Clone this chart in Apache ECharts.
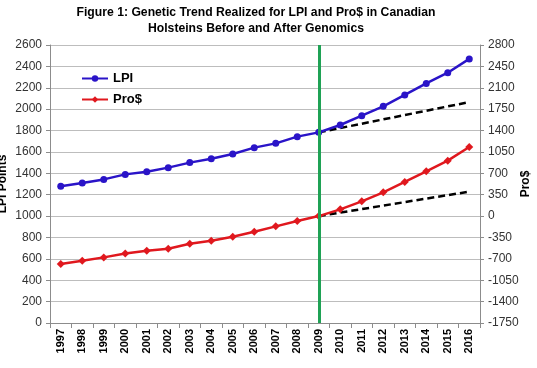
<!DOCTYPE html>
<html><head><meta charset="utf-8">
<script src="https://cdn.jsdelivr.net/npm/echarts@6/dist/echarts.min.js"></script>
<style>html,body{margin:0;padding:0;background:#fff}#c{width:537px;height:368px}</style>
</head><body><div id="c"></div>
<script>
const years = ['1997','1998','1999','2000','2001','2002','2003','2004','2005','2006','2007','2008','2009','2010','2011','2012','2013','2014','2015','2016'];
const lpi = [1278,1310,1343,1390,1415,1453,1500,1537,1581,1640,1680,1743,1783,1852,1939,2026,2133,2241,2341,2470];
const pro = [-784,-730,-676,-611,-567,-534,-452,-403,-338,-256,-168,-80,0,110,241,389,558,732,907,1130];
const lpiTrendNoGenomics = [null,null,null,null,null,null,null,null,null,null,null,null,1783,null,null,null,null,null,null,2066];
const proTrendNoGenomics = [null,null,null,null,null,null,null,null,null,null,null,null,0,null,null,null,null,null,null,400];
const leftTicks = {min:0,max:2600,interval:200};
const rightTicks = {min:-1750,max:2800,interval:350};

const chart = echarts.init(document.getElementById('c'));
const font = 'Arial, "Liberation Sans", sans-serif';
const plain = v => String(v);
chart.setOption({
  animation:false,
  title:{text:'Figure 1: Genetic Trend Realized for LPI and Pro$ in Canadian\nHolsteins Before and After Genomics',left:251,textAlign:'center',top:0,
    textStyle:{fontFamily:font,fontSize:12.2,fontWeight:'bold',color:'#000',lineHeight:16}},
  legend:{data:['LPI','Pro$'],orient:'vertical',left:76,top:67,itemGap:8,itemWidth:26,itemHeight:8,
    textStyle:{fontFamily:font,fontSize:13,fontWeight:'bold',color:'#000'}},
  grid:{left:50,right:57,top:45,bottom:45,containLabel:false,outerBoundsMode:'none'},
  xAxis:{type:'category',data:years,boundaryGap:true,
    axisLine:{lineStyle:{color:'#8c8c8c'}},
    axisTick:{show:true,alignWithLabel:false,length:5,lineStyle:{color:'#8c8c8c'}},
    axisLabel:{rotate:90,interval:0,fontFamily:font,fontSize:11,fontWeight:'bold',color:'#000',margin:6}},
  yAxis:[
    {type:'value',min:leftTicks.min,max:leftTicks.max,interval:leftTicks.interval,name:'LPI Points',nameLocation:'middle',nameGap:41,nameRotate:90,nameMoveOverlap:false,
     nameTextStyle:{fontFamily:font,fontSize:12,fontWeight:'bold',color:'#000'},
     axisLine:{show:true,lineStyle:{color:'#8c8c8c'}},axisTick:{show:true,length:4,lineStyle:{color:'#8c8c8c'}},
     axisLabel:{fontFamily:font,fontSize:12,color:'#333',margin:8,formatter:plain},
     splitLine:{lineStyle:{color:'#bdbdbd',width:1}}},
    {type:'value',min:rightTicks.min,max:rightTicks.max,interval:rightTicks.interval,name:'Pro$',nameLocation:'middle',nameGap:40,nameRotate:90,nameMoveOverlap:false,
     nameTextStyle:{fontFamily:font,fontSize:12,fontWeight:'bold',color:'#000'},
     axisLine:{show:true,lineStyle:{color:'#8c8c8c'}},axisTick:{show:true,length:4,lineStyle:{color:'#8c8c8c'}},
     axisLabel:{fontFamily:font,fontSize:12,color:'#333',margin:8,formatter:plain},
     splitLine:{show:false}}
  ],
  series:[
    {name:'LPI trend without genomics',type:'line',yAxisIndex:0,data:lpiTrendNoGenomics,connectNulls:true,symbol:'none',
     lineStyle:{color:'#000',width:2.5,type:[7,4]},z:3},
    {name:'Pro$ trend without genomics',type:'line',yAxisIndex:1,data:proTrendNoGenomics,connectNulls:true,symbol:'none',
     lineStyle:{color:'#000',width:2.5,type:[7,4]},z:3},
    {name:'LPI',type:'line',yAxisIndex:0,data:lpi,symbol:'circle',symbolSize:7,
     itemStyle:{color:'#2a14c8'},lineStyle:{color:'#2a14c8',width:2.5},z:4,
     markLine:{silent:true,symbol:'none',label:{show:false},lineStyle:{color:'#1fa255',width:3,type:'solid'},data:[{xAxis:'2009'}]}},
    {name:'Pro$',type:'line',yAxisIndex:1,data:pro,symbol:'diamond',symbolSize:8,
     itemStyle:{color:'#e0181e'},lineStyle:{color:'#e0181e',width:2.5},z:4}
  ]
});
</script></body></html>
